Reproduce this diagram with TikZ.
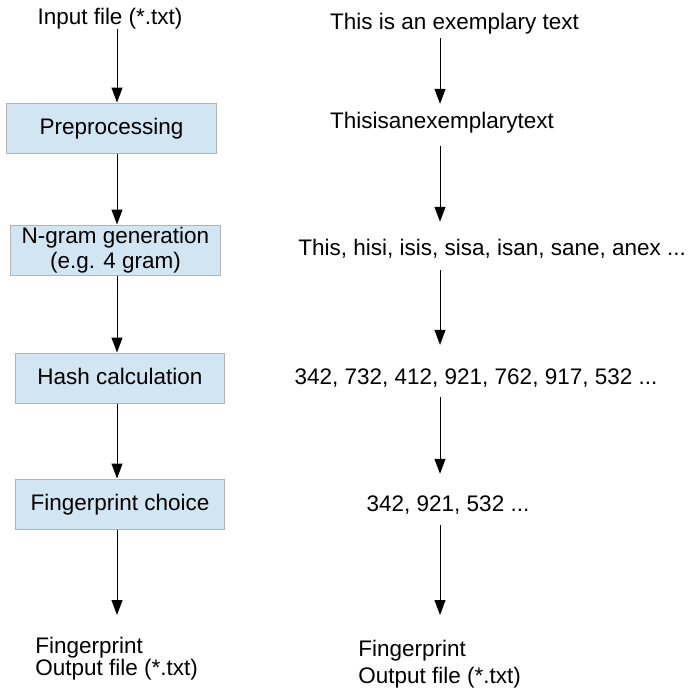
\documentclass[tikz,border=0pt]{standalone}
\usepackage{fontspec}
\setmainfont{Liberation Sans}
\usetikzlibrary{arrows.meta}
\definecolor{stepfill}{RGB}{210,229,243}
\definecolor{stepline}{RGB}{180,180,180}

\begin{document}
\begin{tikzpicture}[x=0.02cm, y=-0.02cm, font=\fontsize{12.8}{15.4}\selectfont,
    stepbox/.style={draw=stepline, fill=stepfill, line width=0.02cm, minimum width=4.2cm,
      minimum height=1cm, inner sep=0pt, align=center},
    oneline/.style={text height=0.72em, text depth=0pt},
    txt/.style={inner sep=0pt, text height=0.72em, text depth=0.21em},
    arr/.style={-{Triangle[width=0.22cm, length=0.3cm]}, line width=0.02cm}]
  \useasboundingbox (0,0) rectangle (688,687);
  % the arrows of each column run along these
  \coordinate (lc) at (117,0);
  \coordinate (rc) at (440,0);

  % steps of the method
  \node[txt] (in) at (110,20.3) {Input file (*.txt)};
  \node[stepbox, oneline] (pre) at (111.5,128) {Preprocessing};
  \node[stepbox, font=\fontsize{12.8}{14.2}\selectfont] (ngram) at (115.5,250) {N-gram generation\\(e.g. 4 gram)};
  \node[stepbox, oneline] (hash) at (120,378) {Hash calculation};
  \node[stepbox, oneline] (choice) at (120,504) {Fingerprint choice};
  \node[anchor=north west, align=left, inner sep=0pt, font=\fontsize{12.8}{12.5}\selectfont]
    (lout) at (35,637) {Fingerprint\\Output file (*.txt)};

  \foreach \a/\b in {in/pre,pre/ngram,ngram/hash,hash/choice}
    \draw[arr] (\a.south -| lc) -- (\b.north -| lc);
  \draw[arr, shorten >=0.44cm] (choice.south -| lc) -- (lout.north -| lc);

  % the same steps on a sample text
  \node[txt] (t1) at (454.5,24.7) {This is an exemplary text};
  \node[txt] (t2) at (442,124.3) {Thisisanexemplarytext};
  \node[txt, anchor=west] (t3) at (298,251.3) {This, hisi, isis, sisa, isan, sane, anex ...};
  \node[txt] (t4) at (476,380.3) {342, 732, 412, 921, 762, 917, 532 ...};
  \node[txt] (t5) at (448,507.3) {342, 921, 532 ...};
  \node[anchor=north west, align=left, inner sep=0pt] (rout) at (358,640) {Fingerprint\\Output file (*.txt)};

  \foreach \a/\b/\s/\e in {t1/t2/0.1/0.24,t2/t3/0.26/0.42,t3/t4/0.2/0.54,t4/t5/0.16/0.5,t5/rout/0.18/0.5}
    \draw[arr, shorten <=\s cm, shorten >=\e cm] (\a.south -| rc) -- (\b.north -| rc);
\end{tikzpicture}
\end{document}
